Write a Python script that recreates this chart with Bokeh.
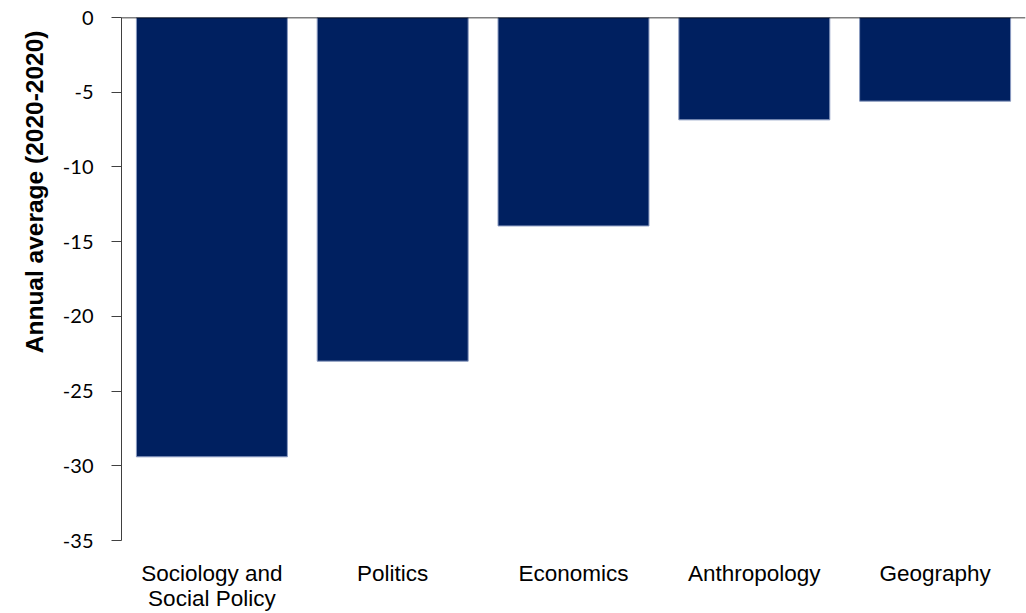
from bokeh.plotting import figure
from bokeh.models import FixedTicker, Span, Title, Range1d
from bokeh.embed import file_html
from bokeh.resources import INLINE

categories = ["Sociology and\nSocial Policy", "Politics", "Economics", "Anthropology", "Geography"]
values = [-29.4, -23.0, -13.95, -6.85, -5.6]
y_ticks = [-35, -30, -25, -20, -15, -10, -5, 0]
y_title = "Annual average (2020-2020)"

p = figure(x_range=categories, y_range=Range1d(-35, 0), width=1026, height=613,
           output_backend="svg", toolbar_location=None,
           min_border_left=121, min_border_top=17, min_border_right=1, min_border_bottom=68)
p.outline_line_color = None
p.grid.grid_line_color = None
p.background_fill_color = "white"

p.vbar(x=categories, top=[0] * len(values), bottom=values, width=0.835,
       fill_color="#002060", line_color="#8a9ac0", line_width=1)

p.add_layout(Span(location=0, dimension="width", line_color="black", line_width=1.5))

ya = p.yaxis[0]
ya.ticker = FixedTicker(ticks=y_ticks)
ya.major_label_overrides = {t: str(t) for t in y_ticks}
ya.major_tick_out = 10
ya.major_tick_in = 0
ya.minor_tick_out = 0
ya.minor_tick_in = 0
ya.axis_line_color = "#404040"
ya.major_tick_line_color = "#404040"
ya.major_label_standoff = 18
ya.major_label_text_font = "Lato"
ya.major_label_text_font_size = "20px"
ya.major_label_text_color = "black"

xa = p.xaxis[0]
xa.axis_line_color = None
xa.major_tick_line_color = None
xa.minor_tick_line_color = None
xa.major_label_standoff = 14
xa.major_label_text_font = "Liberation Sans"
xa.major_label_text_font_size = "22.5px"
xa.major_label_text_color = "black"
xa.major_label_text_line_height = 1.0

p.add_layout(Title(text=y_title, align="right", offset=13, standoff=23,
                   text_font="Liberation Sans", text_font_style="bold",
                   text_font_size="24.5px", text_color="black"), "left")

open("out.html", "w").write(file_html(p, INLINE))
